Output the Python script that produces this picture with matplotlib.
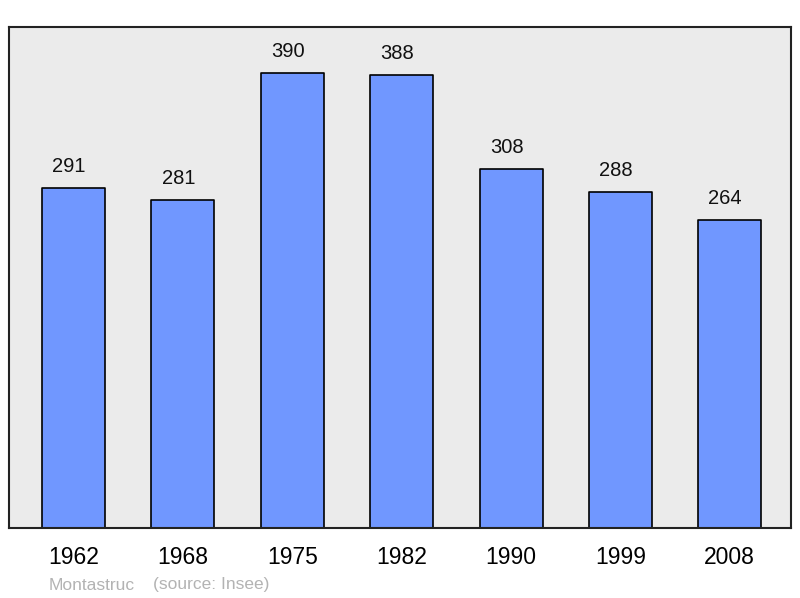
import matplotlib
matplotlib.use("Agg")
import matplotlib.pyplot as plt

years = ["1962", "1968", "1975", "1982", "1990", "1999", "2008"]
population = [291, 281, 390, 388, 308, 288, 264]
commune = "Montastruc"
source = "(source: Insee)"

plt.rcParams['font.family'] = ['Liberation Sans', 'DejaVu Sans']

W, H = 800, 598
fig = plt.figure(figsize=(W/100, H/100), dpi=100)
ax = fig.add_axes([9/W, 1-528/H, 782/W, 501/H])
ax.set_facecolor('#ebebeb')
x = list(range(len(years)))
bars = ax.bar(x, population, width=0.576, color='#7097ff', edgecolor='black', linewidth=1.2, zorder=2)
for b in bars:
    b.set_joinstyle('round')
ax.set_xlim(-0.59, 6.56)
ax.set_ylim(0, 429.4)
for xi, v in zip(x, population):
    ax.annotate(str(v), (xi, v), xytext=(-3.2, 15.5), textcoords='offset points',
                ha='center', va='center', fontsize=14.5, color='#111111')
ax.set_xticks(x)
ax.set_xticklabels(years, fontsize=16.5)
ax.tick_params(axis='x', length=0, pad=13)
ax.set_yticks([])
for s in ax.spines.values():
    s.set_linewidth(1.5)
    s.set_color('#222222')
fig.text(49/W, 1-585/H, commune, fontsize=12.5, color='#b3b3b3', va='center', ha='left')
fig.text(153/W, 1-585/H, source, fontsize=12.5, color='#b3b3b3', va='center', ha='left')
fig.savefig('out.png', dpi=100)
